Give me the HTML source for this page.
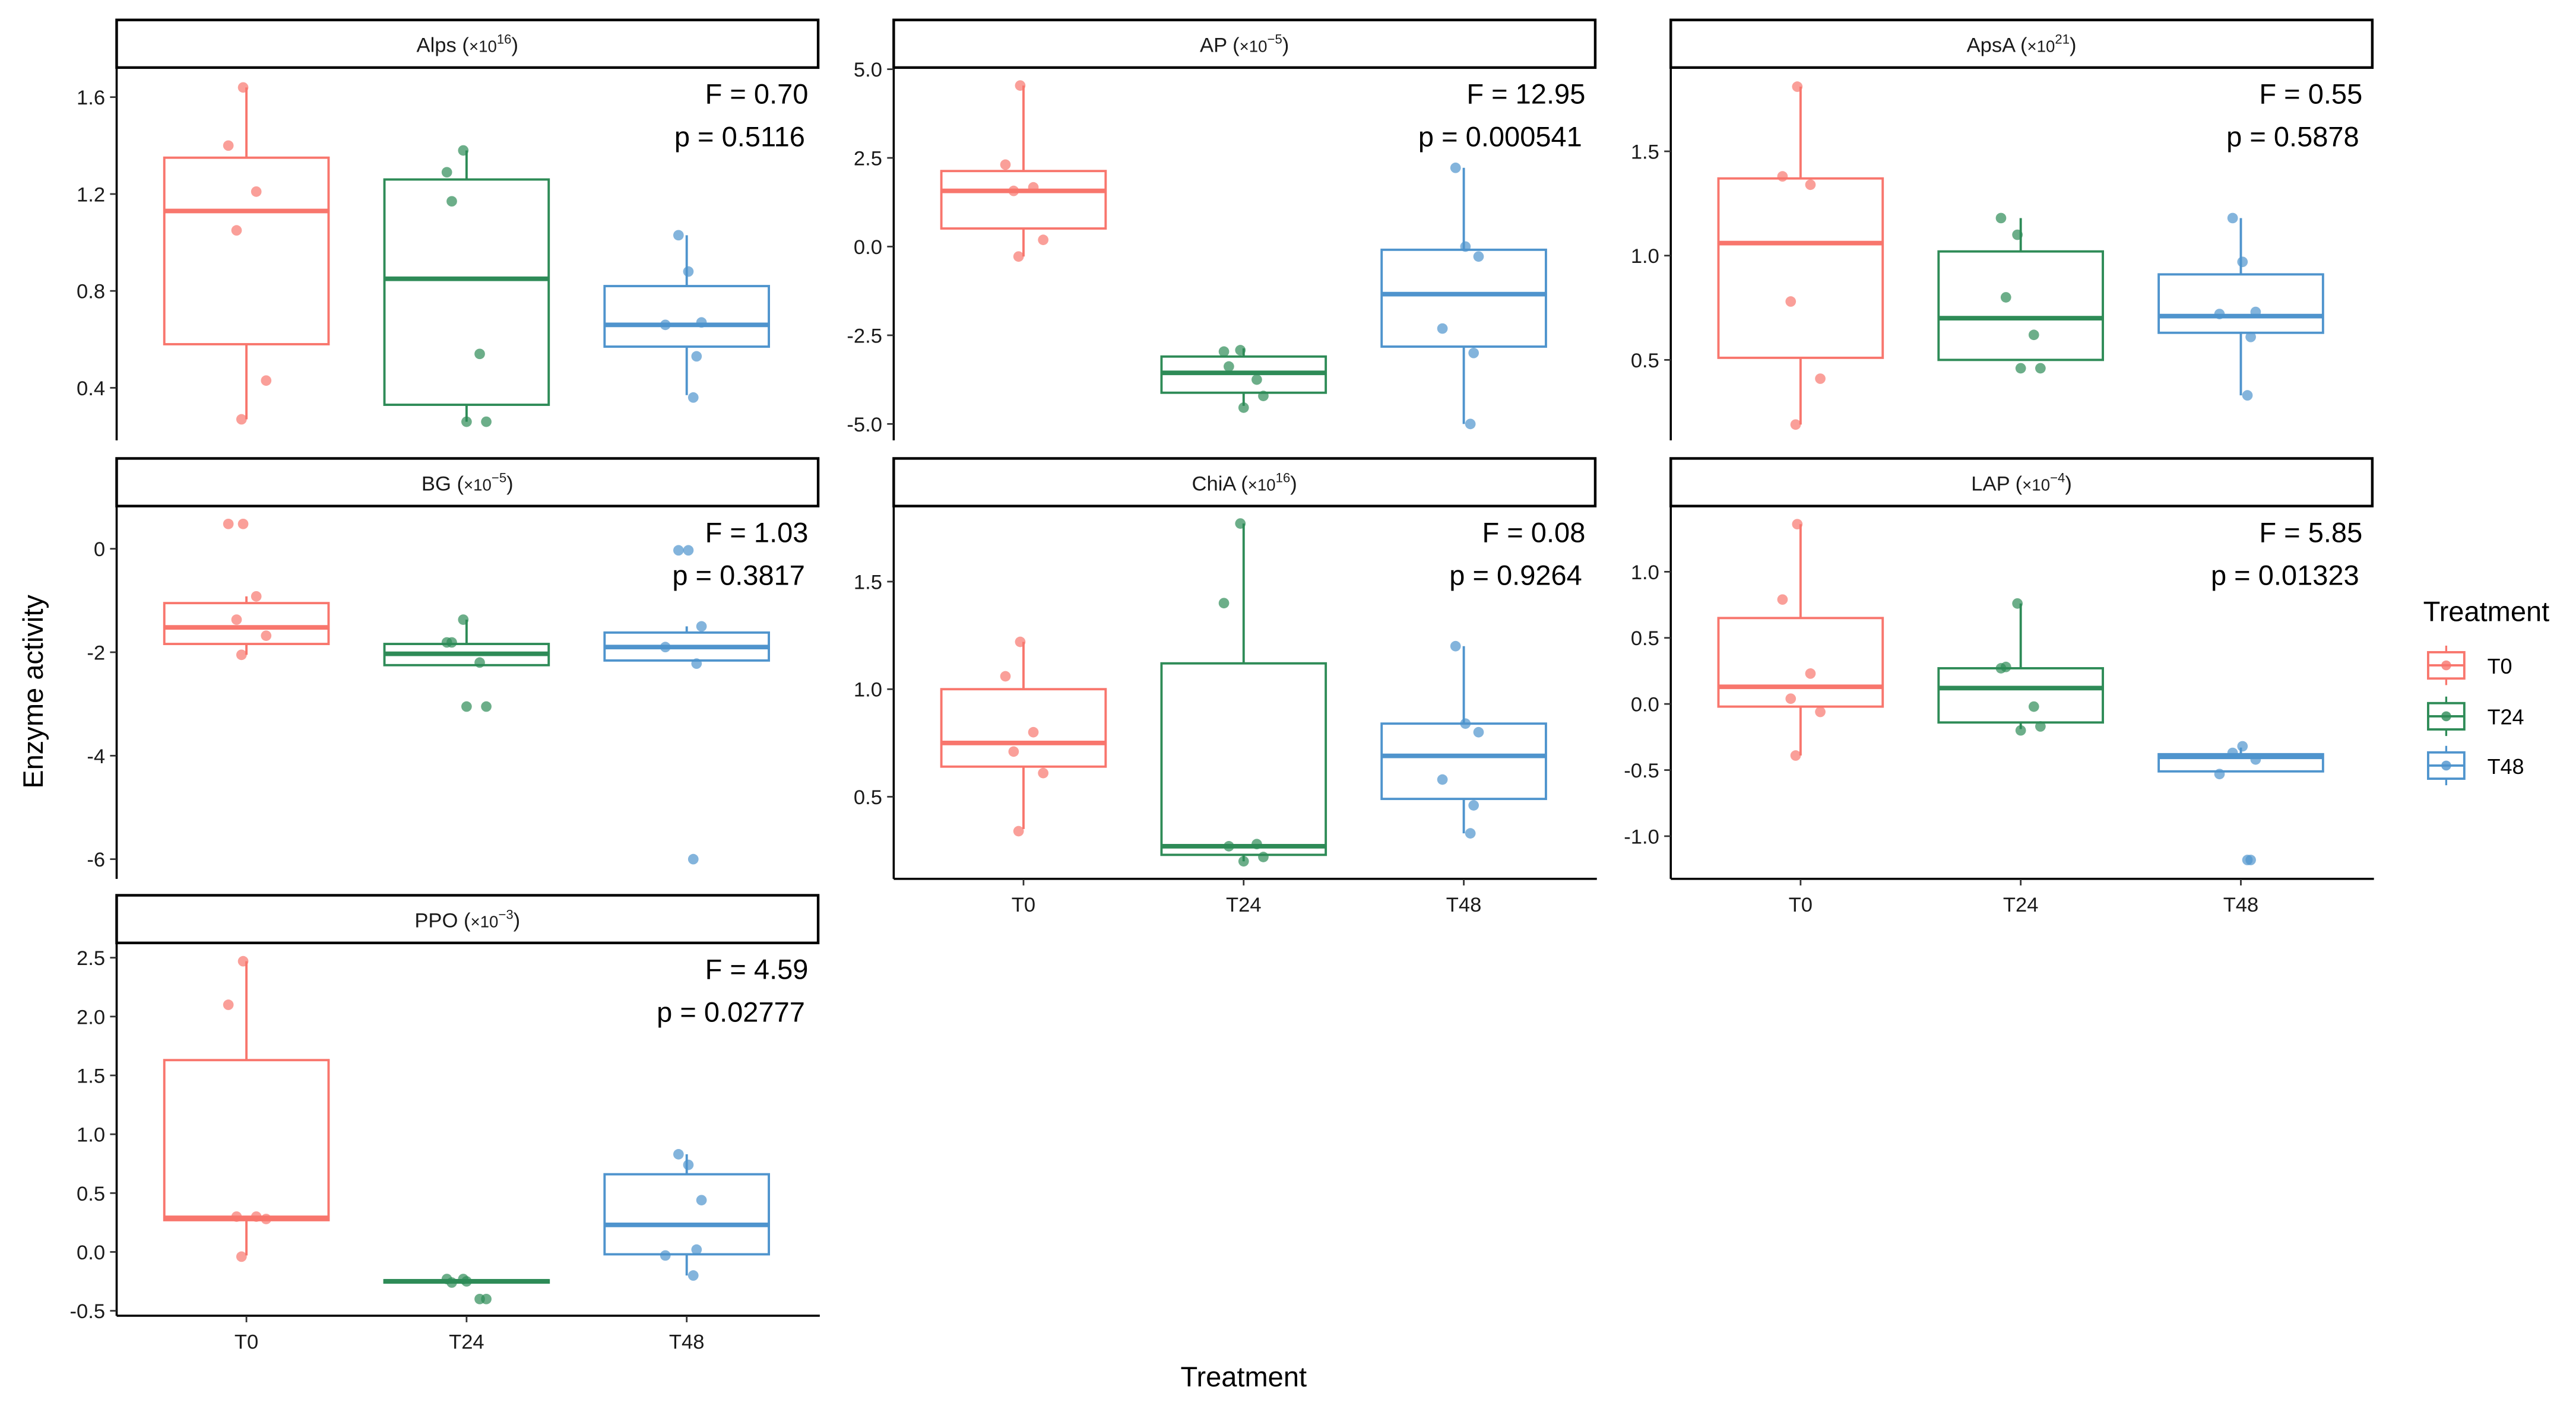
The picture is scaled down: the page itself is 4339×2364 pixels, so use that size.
<!DOCTYPE html>
<html><head><meta charset="utf-8">
<style>
html,body{margin:0;padding:0;background:#fff;}
svg{display:block;font-family:"Liberation Sans",sans-serif;}
</style></head>
<body>
<svg id="chart" width="4339" height="2364" viewBox="0 0 1568 854" xmlns="http://www.w3.org/2000/svg">
<rect width="1568" height="854" fill="#fff"/>
<text x="0" y="0" transform="translate(26,421) rotate(-90)" text-anchor="middle" font-size="17" fill="#000">Enzyme activity</text>
<text x="757" y="844" text-anchor="middle" font-size="17" fill="#000">Treatment</text>
<g>
<text x="1475" y="378" font-size="17" fill="#000">Treatment</text>
</g>
</svg>
<script>
// ---- Data ----
const groups = ["T0","T24","T48"];
const colors = ["#F8766D","#2E8B57","#4F94CD"];
const panelNames = ["Alps","AP","ApsA","BG","ChiA","LAP","PPO"];
const panelExps = ["16","\u22125","21","\u22125","16","\u22124","\u22123"];
const fStats = ["F = 0.70","F = 12.95","F = 0.55","F = 1.03","F = 0.08","F = 5.85","F = 4.59"];
const pStats = ["p = 0.5116","p = 0.000541","p = 0.5878","p = 0.3817","p = 0.9264","p = 0.01323","p = 0.02777"];
// y-domain (value at top tick, value at bottom tick) for each panel
const tickAlps = [0.4,0.8,1.2,1.6];
const tickAP = [-5,-2.5,0,2.5,5];
const tickApsA = [0.5,1.0,1.5];
const tickBG = [-6,-4,-2,0];
const tickChiA = [0.5,1.0,1.5];
const tickLAP = [-1,-0.5,0,0.5,1];
const tickPPO = [-0.5,0,0.5,1,1.5,2,2.5];
const tickLabAlps = ["0.4","0.8","1.2","1.6"];
const tickLabAP = ["-5.0","-2.5","0.0","2.5","5.0"];
const tickLabApsA = ["0.5","1.0","1.5"];
const tickLabBG = ["-6","-4","-2","0"];
const tickLabChiA = ["0.5","1.0","1.5"];
const tickLabLAP = ["-1.0","-0.5","0.0","0.5","1.0"];
const tickLabPPO = ["-0.5","0.0","0.5","1.0","1.5","2.0","2.5"];
// box stats per group: [lowerWhisker, q1, median, q3, upperWhisker]
const boxAlps = [[0.27,0.58,1.13,1.35,1.64],[0.26,0.33,0.85,1.26,1.38],[0.37,0.57,0.66,0.82,1.03]];
const boxAP = [[-0.28,0.51,1.57,2.13,4.54],[-4.49,-4.12,-3.56,-3.10,-2.87],[-5.0,-2.82,-1.34,-0.09,2.22]];
const boxApsA = [[0.19,0.51,1.06,1.37,1.81],[0.50,0.50,0.70,1.02,1.18],[0.33,0.63,0.71,0.91,1.18]];
const boxBG = [[-2.05,-1.84,-1.52,-1.05,-0.92],[-2.25,-2.25,-2.03,-1.84,-1.37],[-2.16,-2.16,-1.90,-1.62,-1.50]];
const boxChiA = [[0.35,0.64,0.75,1.0,1.22],[0.20,0.23,0.27,1.12,1.77],[0.33,0.49,0.69,0.84,1.20]];
const boxLAP = [[-0.39,-0.02,0.13,0.65,1.36],[-0.19,-0.14,0.12,0.27,0.76],[-0.51,-0.51,-0.40,-0.38,-0.33]];
const boxPPO = [[-0.03,0.27,0.29,1.63,2.47],[-0.27,-0.26,-0.25,-0.24,-0.23],[-0.20,-0.02,0.23,0.66,0.83]];
// observations per group
const ptsAlps = [[1.64,1.40,1.21,1.05,0.43,0.27],[1.38,1.29,1.17,0.54,0.26,0.26],[1.03,0.88,0.67,0.66,0.53,0.36]];
const ptsAP = [[4.54,2.31,1.67,1.57,0.19,-0.28],[-2.92,-2.96,-3.38,-3.75,-4.21,-4.54],[2.22,0.0,-0.28,-2.31,-3.0,-5.0]];
const ptsApsA = [[1.81,1.38,1.34,0.78,0.41,0.19],[1.10,1.18,0.80,0.62,0.46,0.46],[1.18,0.97,0.73,0.72,0.61,0.33]];
const ptsBG = [[0.48,0.48,-0.92,-1.37,-1.68,-2.05],[-1.37,-1.81,-1.81,-2.2,-3.05,-3.05],[-0.03,-0.03,-1.5,-1.9,-2.22,-6.0]];
const ptsChiA = [[1.22,1.06,0.80,0.71,0.61,0.34],[1.77,1.40,0.27,0.28,0.22,0.20],[1.20,0.84,0.80,0.58,0.46,0.33]];
const ptsLAP = [[1.36,0.79,0.23,0.04,-0.06,-0.39],[0.76,0.27,0.28,-0.02,-0.17,-0.20],[-0.37,-0.32,-0.42,-0.53,-1.18,-1.18]];
const ptsPPO = [[2.47,2.10,0.30,0.30,0.28,-0.04],[-0.23,-0.23,-0.26,-0.40,-0.40,-0.25],[0.83,0.74,0.44,-0.03,0.02,-0.20]];
const jitterT0 = [-2,-11,6,-6,12,-3];
const jitterT24 = [-2,-12,-9,8,12,0];
const jitterT48 = [-5,1,9,-13,6,4];

// ---- Layout ----
const panelTicks = [tickAlps,tickAP,tickApsA,tickBG,tickChiA,tickLAP,tickPPO];
const panelTickLabs = [tickLabAlps,tickLabAP,tickLabApsA,tickLabBG,tickLabChiA,tickLabLAP,tickLabPPO];
const panelBoxes = [boxAlps,boxAP,boxApsA,boxBG,boxChiA,boxLAP,boxPPO];
const panelPts = [ptsAlps,ptsAP,ptsApsA,ptsBG,ptsChiA,ptsLAP,ptsPPO];
const jitters = [jitterT0,jitterT24,jitterT48];
// pixel mapping of two tick values per panel: [value1, y1, value2, y2]
const yCal = [[1.6,59,0.4,236],[5,42,-5,258],[1.5,92,0.5,219],[0,334,-6,523],[1.5,354,0.5,485],[1,348,-1,509],[2.5,583,-0.5,798]];
const colX = [71,544,1017];
const rowY = [12,279,545];
const PW = 427, STRIP = 29, PH = 227;
const svg = document.getElementById('chart');
const NS = "http://www.w3.org/2000/svg";
function mk(tag, attrs, parent){ const e=document.createElementNS(NS,tag); for(const k in attrs) e.setAttribute(k,attrs[k]); (parent||svg).appendChild(e); return e; }

panelNames.forEach((name,i)=>{
  const col=i%3, row=Math.floor(i/3);
  const x0=colX[col], sy=rowY[row], py=sy+STRIP, pb=py+PH;
  const c=yCal[i];
  const yS = v => c[1] + (v-c[0])*(c[3]-c[1])/(c[2]-c[0]);
  const xS = g => x0 + 79 + g*134;
  const g = mk('g',{});
  
  
  // strip
  const st = mk('rect',{x:x0,y:sy,width:PW,height:STRIP,fill:'#fff',stroke:'#000','stroke-width':1.6},g);
  
  
  const tt = mk('text',{x:x0+PW/2,y:sy+19.5,'text-anchor':'middle','font-size':12.5,fill:'#1a1a1a'},g);
  
  
  tt.textContent = name+' (';
  const ts = mk('tspan',{'font-size':10},tt); ts.textContent='\u00d710';
  const te = mk('tspan',{'font-size':8,dy:-5},tt); te.textContent=panelExps[i];
  const tc = mk('tspan',{dy:5},tt); tc.textContent=')';
  // y axis
  const ya = mk('line',{x1:x0,y1:py,x2:x0,y2:pb,stroke:'#000','stroke-width':1.3},g);
  
  
  panelTicks[i].forEach((t,k)=>{
    const y=yS(t);
    mk('line',{x1:x0-4,y1:y,x2:x0,y2:y,stroke:'#333','stroke-width':1},g);
    const tl = mk('text',{x:x0-7,y:y+4.5,'text-anchor':'end','font-size':12.5,fill:'#1a1a1a'},g);
    
    
    tl.textContent = panelTickLabs[i][k];
  });
  // x axis on bottom panels
  if(i>=4){
    const xa = mk('line',{x1:x0,y1:pb,x2:x0+PW+1,y2:pb,stroke:'#000','stroke-width':1.3},g);
    
    
    groups.forEach((gn,k)=>{
      mk('line',{x1:xS(k),y1:pb,x2:xS(k),y2:pb+4,stroke:'#333','stroke-width':1},g);
      const xl = mk('text',{x:xS(k),y:pb+20,'text-anchor':'middle','font-size':12.5,fill:'#1a1a1a'},g);
      
      
      xl.textContent=gn;
    });
  }
  // boxes
  panelBoxes[i].forEach((b,k)=>{
    const cx=xS(k), col=colors[k];
    const bg = mk('g',{},g);
    
    
    mk('line',{x1:cx,y1:yS(b[3]),x2:cx,y2:yS(b[4]),stroke:col,'stroke-width':1.4},bg);
    mk('line',{x1:cx,y1:yS(b[1]),x2:cx,y2:yS(b[0]),stroke:col,'stroke-width':1.4},bg);
    mk('rect',{x:cx-50,y:yS(b[3]),width:100,height:Math.max(0.5,yS(b[1])-yS(b[3])),fill:'#fff',stroke:col,'stroke-width':1.4},bg);
    mk('line',{x1:cx-50,y1:yS(b[2]),x2:cx+50,y2:yS(b[2]),stroke:col,'stroke-width':2.8},bg);
  });
  panelPts[i].forEach((arr,k)=>{
    arr.forEach((v,j)=>{
      const p = mk('circle',{cx:xS(k)+jitters[k][j],cy:yS(v),r:3.2,fill:colors[k],'fill-opacity':0.7},g);
      
      
    });
  });
  const f = mk('text',{x:x0+PW-6,y:py+22,'text-anchor':'end','font-size':17,fill:'#000'},g);
  
  
  f.textContent=fStats[i];
  const p = mk('text',{x:x0+PW-8,y:py+48,'text-anchor':'end','font-size':17,fill:'#000'},g);
  
  
  p.textContent=pStats[i];
});

// legend keys
const legendY = [405,436,466];
groups.forEach((gn,k)=>{
  const lg = mk('g',{});
  
  
  const cy=legendY[k];
  mk('line',{x1:1489,y1:cy-12,x2:1489,y2:cy+12,stroke:colors[k],'stroke-width':1.2},lg);
  mk('rect',{x:1478,y:cy-8,width:22,height:16,fill:'#fff',stroke:colors[k],'stroke-width':1.4},lg);
  mk('line',{x1:1478,y1:cy,x2:1500,y2:cy,stroke:colors[k],'stroke-width':1.4},lg);
  mk('circle',{cx:1489,cy:cy,r:3,fill:colors[k],'fill-opacity':0.8},lg);
  const t = mk('text',{x:1514,y:cy+5,'font-size':13,fill:'#000'},lg);
  t.textContent=gn;
});
</script>
</body></html>
